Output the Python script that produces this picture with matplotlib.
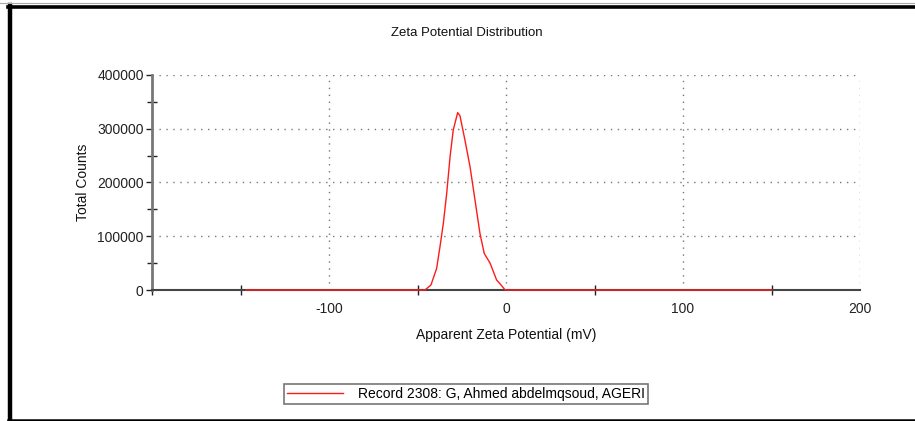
import matplotlib
matplotlib.use("Agg")
import matplotlib.pyplot as plt
from matplotlib.lines import Line2D
from matplotlib.ticker import MultipleLocator

plt.rcParams['font.family'] = ['Liberation Sans Narrow', 'Liberation Sans', 'DejaVu Sans']
plt.rcParams['axes.unicode_minus'] = False

# Zeta potential distribution (mV vs total counts)
zeta_mv = [-147, -50, -45.8, -42.4, -39.2, -37.3, -35.4, -33.5, -31.6, -29.8, -27.3,
           -26.0, -23.2, -20.3, -17.5, -14.7, -12.3, -9.0, -5.3, -2.8, -0.5, 150]
counts = [0, 0, 0, 9300, 40000, 80600, 124000, 180000, 248000, 297700, 330000,
          324000, 279000, 229000, 167000, 105000, 68000, 50000, 18600, 9300, 0, 0]

record_label = "Record 2308: G, Ahmed abdelmqsoud, AGERI"
x_ticks = [-100, 0, 100, 200]
y_ticks = [0, 100000, 200000, 300000, 400000]

W, H = 915, 421
fig = plt.figure(figsize=(W / 100, H / 100), dpi=100)
fig.patch.set_facecolor('white')

ax = fig.add_axes([152 / W, 1 - 290 / H, (860 - 152) / W, (290 - 75) / H])
ax.set_xlim(-200, 200)
ax.set_ylim(0, 400000)

line, = ax.plot(zeta_mv, counts, color='#ff1a1a', lw=1.0, clip_on=False, zorder=5,
                label=record_label)

ax.set_xticks(x_ticks)
ax.set_xticklabels([str(v) for v in x_ticks])
ax.set_yticks(y_ticks)
ax.set_yticklabels([str(v) for v in y_ticks])
ax.xaxis.set_minor_locator(MultipleLocator(50))
ax.yaxis.set_minor_locator(MultipleLocator(50000))

ax.grid(True, which='major', linestyle=(0, (1, 4)), color='#777777', lw=1.0)
ax.tick_params(axis='both', which='major', labelsize=10, colors='#222222',
               length=4, width=1, pad=2)
ax.tick_params(axis='x', which='major', length=0, pad=8.5)
ax.tick_params(axis='both', which='minor', direction='inout', length=7, width=1,
               colors='#222222')

for s in ['top', 'right']:
    ax.spines[s].set_visible(False)
ax.spines['left'].set_color('#777777')
ax.spines['left'].set_linewidth(2)
ax.spines['bottom'].set_color('#444444')
ax.spines['bottom'].set_linewidth(1.5)
ax.set_axisbelow(True)

fig.text(467 / W, 1 - 33 / H, "Zeta Potential Distribution", ha='center', va='center',
         fontsize=9.5, color='#111111')
ax.set_xlabel("Apparent Zeta Potential (mV)", fontsize=10, color='#111111', labelpad=9)
ax.set_ylabel("Total Counts", fontsize=10, color='#111111', labelpad=5)

leg = fig.legend(handles=[line], loc='center', bbox_to_anchor=(466 / W, 1 - 394 / H),
                 fontsize=10, frameon=True, fancybox=False, handlelength=4.0,
                 handletextpad=1.1, borderpad=0.25, borderaxespad=0)
leg.get_frame().set_edgecolor('#555555')
leg.get_frame().set_linewidth(1.2)

# page frame
fig.add_artist(Line2D([10 / W, 10 / W], [0, 1 - 5 / H], transform=fig.transFigure,
                      color='black', lw=3.2))
fig.add_artist(Line2D([8 / W, 1], [1 - 6.5 / H, 1 - 6.5 / H], transform=fig.transFigure,
                      color='black', lw=2.6))
fig.add_artist(Line2D([0, 1], [1 - 3 / H, 1 - 3 / H], transform=fig.transFigure,
                      color='#aaaaaa', lw=0.8))
fig.add_artist(Line2D([8 / W, 1], [1 - 420 / H, 1 - 420 / H], transform=fig.transFigure,
                      color='black', lw=1.8))

fig.savefig("out.png", dpi=100)
